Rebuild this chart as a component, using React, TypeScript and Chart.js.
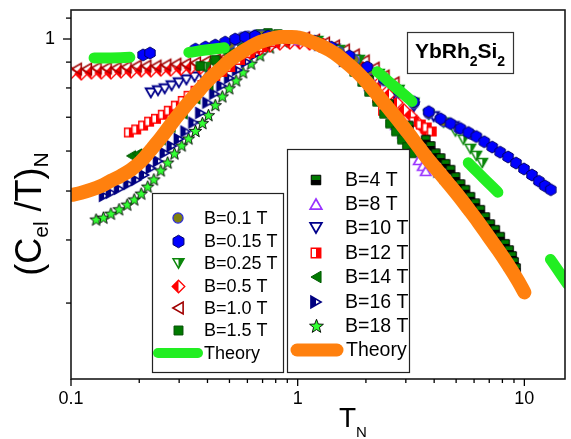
import React, { useEffect, useRef } from 'react';
import { Chart, registerables } from 'chart.js';

Chart.register(...registerables);

// ---------------- axes ----------------
const X_MIN = 0.1;
const X_MAX = 15.11;
const Y_MIN = 0.2122;
const Y_MAX = 1.1414;
const X_TICK_VALUES = [0.1, 0.2, 0.3, 0.4, 0.5, 0.6, 0.7, 0.8, 0.9, 1, 2, 3, 4, 5, 6, 7, 8, 9, 10];
const X_MAJOR_TICKS = [0.1, 1, 10];
const Y_TICK_VALUES = [0.3, 0.4, 0.5, 0.6, 0.7, 0.8, 0.9, 1, 1.1];
const Y_MAJOR_TICKS = [1];

// ---------------- theory curves ----------------
const ORANGE_T = [0.100, 0.111, 0.123, 0.136, 0.150, 0.166, 0.184, 0.204, 0.225, 0.249, 0.275, 0.305, 0.337, 0.372, 0.412, 0.456, 0.504, 0.557, 0.617, 0.682, 0.754, 0.834, 0.923, 1.020, 1.128, 1.248, 1.380, 1.527, 1.689, 1.868, 2.066, 2.286, 2.528, 2.796, 3.093, 3.421, 3.784, 4.185, 4.629, 5.120, 5.664, 6.264, 6.929, 7.664, 8.477, 9.376, 10.0];
const ORANGE_V = [0.491, 0.496, 0.503, 0.512, 0.524, 0.536, 0.551, 0.573, 0.603, 0.637, 0.676, 0.717, 0.757, 0.796, 0.837, 0.872, 0.909, 0.938, 0.964, 0.986, 1.000, 1.009, 1.009, 1.005, 0.991, 0.973, 0.951, 0.922, 0.888, 0.852, 0.811, 0.768, 0.727, 0.688, 0.649, 0.611, 0.576, 0.546, 0.517, 0.489, 0.461, 0.434, 0.407, 0.382, 0.357, 0.332, 0.315];

const GREEN_T = [0.100, 0.1206, 0.150, 0.196, 0.249, 0.314, 0.392, 0.504, 0.648, 0.793, 1.000, 1.248, 1.606, 2.130, 2.659, 3.319, 4.185, 5.385, 6.588, 7.90, 9.861, 12.43, 15.5];
const GREEN_V = [0.913, 0.917, 0.917, 0.922, 0.930, 0.938, 0.951, 0.964, 0.982, 0.995, 1.000, 0.986, 0.943, 0.876, 0.807, 0.740, 0.661, 0.582, 0.531, 0.489, 0.430, 0.377, 0.327];

// ---------------- measured series ----------------
const B0_1_T = [0.504, 0.535, 0.568, 0.604, 0.648, 0.696, 0.754, 0.834, 0.923, 1.020, 1.151, 1.313, 1.527, 1.776, 2.066, 2.404, 2.796, 3.253, 3.784, 4.402, 5.120, 5.838];
const B0_1_V = [0.978, 0.995, 1.009, 1.014, 1.018, 1.018, 1.014, 1.009, 1.005, 1.000, 0.986, 0.969, 0.943, 0.909, 0.868, 0.826, 0.782, 0.744, 0.711, 0.686, 0.665, 0.647];

const B0_15_T = [0.208, 0.223, 0.354, 0.392, 0.433, 0.479, 0.530, 0.586, 0.648, 0.739, 0.868, 1.000, 1.187, 1.408, 1.689, 2.025, 2.404, 2.796, 3.253, 3.784, 4.270, 4.723, 5.224, 5.664, 6.140, 6.655, 7.215, 7.820, 8.477, 9.190, 9.961, 10.80, 11.59, 12.31, 13.08];
const B0_15_V = [0.930, 0.938, 0.955, 0.964, 0.973, 0.986, 1.000, 1.009, 1.014, 1.014, 1.009, 1.005, 0.991, 0.964, 0.926, 0.880, 0.834, 0.790, 0.751, 0.718, 0.695, 0.680, 0.665, 0.653, 0.641, 0.626, 0.611, 0.597, 0.584, 0.568, 0.553, 0.538, 0.523, 0.512, 0.503];

const B0_25_T = [0.392, 0.433, 0.499, 0.586, 0.696, 0.834, 1.000, 1.224, 1.527, 1.868, 2.286, 2.796, 3.253, 3.784, 4.402, 4.968, 5.385, 5.780, 6.140, 6.522];
const B0_25_V = [0.880, 0.892, 0.917, 0.951, 0.982, 1.000, 1.005, 0.991, 0.951, 0.909, 0.853, 0.793, 0.748, 0.708, 0.683, 0.656, 0.632, 0.606, 0.587, 0.568];

const B0_5_T = [0.100, 0.111, 0.123, 0.136, 0.150, 0.166, 0.184, 0.204, 0.225, 0.249, 0.275, 0.305, 0.337, 0.372, 0.412, 0.456, 0.504, 0.557, 0.617, 0.682, 0.754, 0.834, 0.923, 1.020, 1.128, 1.248, 1.527, 1.723, 1.945, 2.151, 2.333, 2.528, 2.741, 2.941, 3.156, 3.353, 3.562, 3.709];
const B0_5_V = [0.857, 0.853, 0.857, 0.857, 0.857, 0.861, 0.861, 0.865, 0.865, 0.868, 0.868, 0.872, 0.876, 0.876, 0.884, 0.897, 0.905, 0.921, 0.938, 0.955, 0.969, 0.978, 0.982, 0.982, 0.978, 0.969, 0.938, 0.909, 0.876, 0.841, 0.808, 0.775, 0.748, 0.724, 0.705, 0.686, 0.668, 0.653];

const B1_0_T = [0.1056, 0.117, 0.129, 0.143, 0.158, 0.175, 0.194, 0.214, 0.237, 0.262, 0.290, 0.320, 0.354, 0.392, 0.433, 0.479, 0.530, 0.586, 0.648, 0.717, 0.793, 0.877, 0.970, 1.073, 1.187, 1.313, 1.452, 1.606, 1.776, 1.965, 2.173, 2.404, 2.659];
const B1_0_V = [0.872, 0.872, 0.876, 0.876, 0.876, 0.880, 0.884, 0.884, 0.884, 0.888, 0.892, 0.892, 0.897, 0.901, 0.909, 0.921, 0.934, 0.951, 0.969, 0.982, 0.995, 1.000, 1.005, 1.005, 0.995, 0.982, 0.969, 0.951, 0.930, 0.905, 0.876, 0.845, 0.819];

const B1_5_T = [0.372, 0.433, 0.504, 0.568, 0.630, 0.682, 0.739, 0.817, 0.904, 1.000, 1.187, 1.380, 1.606, 1.776, 1.926, 2.066, 2.240, 2.404, 2.554, 2.713, 2.882, 3.032, 3.188];
const B1_5_V = [0.884, 0.909, 0.943, 0.978, 1.009, 1.023, 1.028, 1.023, 1.018, 1.009, 0.986, 0.951, 0.901, 0.861, 0.822, 0.786, 0.751, 0.711, 0.680, 0.656, 0.632, 0.611, 0.594];

const B4_T = [0.617, 0.754, 0.923, 1.128, 1.380, 1.689, 2.066, 2.528, 3.093, 3.671, 3.861, 4.061, 4.270, 4.492, 4.723, 4.968, 5.224, 5.495, 5.780, 6.077, 6.392, 6.722, 7.070, 7.436, 7.820, 8.225, 8.563, 8.826, 9.005, 9.190];
const B4_V = [0.964, 0.995, 1.005, 0.991, 0.955, 0.901, 0.830, 0.744, 0.674, 0.632, 0.614, 0.594, 0.581, 0.566, 0.551, 0.533, 0.516, 0.503, 0.487, 0.473, 0.459, 0.444, 0.430, 0.419, 0.406, 0.393, 0.382, 0.372, 0.362, 0.352];

const B8_T = [1.020, 1.380, 1.776, 2.173, 2.503, 2.713, 2.911, 3.093, 3.286, 3.421, 3.562, 3.671];
const B8_V = [0.995, 0.960, 0.897, 0.811, 0.731, 0.676, 0.650, 0.626, 0.597, 0.576, 0.561, 0.548];

const B10_T = [0.225, 0.242, 0.259, 0.278, 0.299, 0.323, 0.351, 0.380, 0.412, 0.446, 0.484, 0.525, 0.568, 0.630, 0.696, 0.785, 0.886, 1.000, 1.187, 1.452, 1.776, 2.173, 2.659, 3.253, 3.980, 4.869];
const B10_V = [0.782, 0.790, 0.797, 0.808, 0.819, 0.830, 0.841, 0.849, 0.861, 0.872, 0.884, 0.901, 0.921, 0.947, 0.969, 0.986, 1.000, 1.005, 0.986, 0.955, 0.909, 0.845, 0.779, 0.734, 0.702, 0.671];

const B12_T = [0.180, 0.194, 0.208, 0.221, 0.237, 0.254, 0.270, 0.290, 0.311, 0.330, 0.354, 0.380, 0.404, 0.433, 0.465, 0.504, 0.557, 0.617, 0.696, 0.793, 0.904, 1.000, 1.248, 1.527, 1.831, 2.066, 2.240, 2.380, 3.253, 3.491, 3.709, 3.901];
const B12_V = [0.653, 0.662, 0.674, 0.686, 0.695, 0.708, 0.721, 0.738, 0.754, 0.772, 0.790, 0.811, 0.830, 0.845, 0.861, 0.880, 0.909, 0.938, 0.964, 0.986, 1.000, 1.005, 0.982, 0.934, 0.876, 0.815, 0.765, 0.721, 0.686, 0.677, 0.668, 0.656];

const B14_T = [0.184, 0.196, 0.208, 0.221, 0.249, 0.275, 0.311, 0.354, 0.404, 0.465, 0.535, 0.617, 0.717, 0.834, 1.000, 1.248, 1.606, 2.066, 2.659, 3.353, 4.103];
const B14_V = [0.587, 0.592, 0.597, 0.606, 0.632, 0.668, 0.711, 0.761, 0.811, 0.861, 0.909, 0.947, 0.978, 0.995, 1.005, 0.973, 0.905, 0.811, 0.708, 0.620, 0.551];

const B16_T = [0.140, 0.150, 0.163, 0.179, 0.194, 0.210, 0.225, 0.242, 0.259, 0.278, 0.299, 0.320, 0.347, 0.372, 0.400, 0.429, 0.461, 0.499, 0.541, 0.592, 0.655, 0.732, 0.834, 0.942, 1.248, 1.606, 2.066, 2.659, 3.421, 4.185];
const B16_V = [0.489, 0.496, 0.505, 0.516, 0.526, 0.538, 0.555, 0.573, 0.595, 0.614, 0.634, 0.656, 0.683, 0.714, 0.748, 0.779, 0.808, 0.837, 0.868, 0.901, 0.934, 0.964, 0.986, 1.000, 0.973, 0.905, 0.811, 0.708, 0.611, 0.546];

const B18_T = [0.129, 0.139, 0.150, 0.163, 0.177, 0.190, 0.204, 0.218, 0.232, 0.249, 0.267, 0.286, 0.308, 0.330, 0.354, 0.380, 0.404, 0.433, 0.465, 0.499, 0.535, 0.574, 0.623, 0.682, 0.754, 0.868, 0.961, 1.248, 1.606, 2.066, 2.659, 3.421, 4.402, 5.664, 7.287, 8.477];
const B18_V = [0.438, 0.442, 0.450, 0.459, 0.469, 0.480, 0.493, 0.509, 0.526, 0.548, 0.568, 0.592, 0.614, 0.634, 0.656, 0.680, 0.705, 0.738, 0.768, 0.797, 0.826, 0.857, 0.892, 0.926, 0.960, 0.986, 1.000, 0.973, 0.905, 0.811, 0.708, 0.611, 0.531, 0.461, 0.395, 0.357];

const LABELS: Record<string, string> = {
  B0_1: 'B=0.1 T', B0_15: 'B=0.15 T', B0_25: 'B=0.25 T', B0_5: 'B=0.5 T', B1_0: 'B=1.0 T', B1_5: 'B=1.5 T',
  B4: 'B=4 T', B8: 'B=8 T', B10: 'B=10 T', B12: 'B=12 T', B14: 'B=14 T', B16: 'B=16 T', B18: 'B=18 T',
};
const THEORY_LABEL = 'Theory';
const LEFT_LEGEND = ['B0_1', 'B0_15', 'B0_25', 'B0_5', 'B1_0', 'B1_5'];
const RIGHT_LEGEND = ['B4', 'B8', 'B10', 'B12', 'B14', 'B16', 'B18'];

const SERIES_DATA: Record<string, [number[], number[]]> = {
  B0_1: [B0_1_T, B0_1_V], B0_15: [B0_15_T, B0_15_V], B0_25: [B0_25_T, B0_25_V], B0_5: [B0_5_T, B0_5_V],
  B1_0: [B1_0_T, B1_0_V], B1_5: [B1_5_T, B1_5_V], B4: [B4_T, B4_V], B8: [B8_T, B8_V], B10: [B10_T, B10_V],
  B12: [B12_T, B12_V], B14: [B14_T, B14_V], B16: [B16_T, B16_V], B18: [B18_T, B18_V],
};
// drawing order: first = on top
const DRAW_ORDER = ['B0_15', 'B0_1', 'B4', 'B1_5', 'B8', 'B0_25', 'B12', 'B1_0', 'B0_5', 'B10', 'B14', 'B16', 'B18'];

// ---------------- styles ----------------
const FONT = '"Liberation Sans", Arial, Helvetica, sans-serif';
const GREEN = '#22ee22';
const ORANGE = '#ff800e';

type Sym = { shape: string; size: number; fill: string | null; stroke: string; lw: number; half?: { side: string; color: string } };
const SYMBOLS: Record<string, Sym> = {
  B0_1: { shape: 'circle', size: 11, fill: '#7f7f10', stroke: '#2a2ae0', lw: 1.2 },
  B0_15: { shape: 'hex', size: 12, fill: '#0000ff', stroke: '#00006a', lw: 1 },
  B0_25: { shape: 'triDown', size: 12, fill: '#ffffff', stroke: '#0a860a', lw: 1.5, half: { side: 'right', color: '#0a860a' } },
  B0_5: { shape: 'diamond', size: 12, fill: '#ffffff', stroke: '#ff0000', lw: 1.3, half: { side: 'left', color: '#ff0000' } },
  B1_0: { shape: 'triLeft', size: 13, fill: null, stroke: '#a00000', lw: 1.6 },
  B1_5: { shape: 'square', size: 10, fill: '#007a00', stroke: '#004d00', lw: 1 },
  B4: { shape: 'square', size: 10, fill: '#007a00', stroke: '#000000', lw: 1, half: { side: 'bottom', color: '#000000' } },
  B8: { shape: 'triUp', size: 12, fill: '#ffffff', stroke: '#9933ff', lw: 1.7 },
  B10: { shape: 'triDown', size: 12, fill: '#ffffff', stroke: '#00008b', lw: 1.8 },
  B12: { shape: 'square', size: 10, fill: '#ffffff', stroke: '#ff0000', lw: 1.4, half: { side: 'right', color: '#ff0000' } },
  B14: { shape: 'triLeft', size: 12, fill: '#007a00', stroke: '#005a00', lw: 1 },
  B16: { shape: 'triRight', size: 12, fill: '#ffffff', stroke: '#000080', lw: 1.6, half: { side: 'left', color: '#000080' } },
  B18: { shape: 'star', size: 13, fill: '#33ff33', stroke: '#000000', lw: 0.9 },
};

function polyPoints(cx: number, cy: number, r: number, n: number, startDeg: number) {
  const pts: number[][] = [];
  for (let i = 0; i < n; i++) {
    const a = ((startDeg + (i * 360) / n) * Math.PI) / 180;
    pts.push([cx + r * Math.cos(a), cy + r * Math.sin(a)]);
  }
  return pts;
}
function starPoints(cx: number, cy: number, r: number) {
  const pts: number[][] = [];
  for (let i = 0; i < 10; i++) {
    const rr = i % 2 === 0 ? r : r * 0.42;
    const a = ((-90 + i * 36) * Math.PI) / 180;
    pts.push([cx + rr * Math.cos(a), cy + rr * Math.sin(a)]);
  }
  return pts;
}
function shapePath(g: CanvasRenderingContext2D, shape: string, cx: number, cy: number, size: number) {
  const r = size / 2;
  g.beginPath();
  let pts: number[][] = [];
  switch (shape) {
    case 'circle': g.arc(cx, cy, r * 0.88, 0, Math.PI * 2); g.closePath(); return;
    case 'square': g.rect(cx - r * 0.85, cy - r * 0.85, r * 1.7, r * 1.7); return;
    case 'hex': pts = polyPoints(cx, cy, r, 6, -90); break;
    case 'diamond': pts = polyPoints(cx, cy, r, 4, -90); break;
    case 'triUp': pts = polyPoints(cx, cy + r * 0.25, r, 3, -90); break;
    case 'triDown': pts = polyPoints(cx, cy - r * 0.25, r, 3, 90); break;
    case 'triLeft': pts = polyPoints(cx + r * 0.25, cy, r, 3, 180); break;
    case 'triRight': pts = polyPoints(cx - r * 0.25, cy, r, 3, 0); break;
    case 'star': pts = starPoints(cx, cy, r); break;
  }
  g.moveTo(pts[0][0], pts[0][1]);
  for (let i = 1; i < pts.length; i++) g.lineTo(pts[i][0], pts[i][1]);
  g.closePath();
}
function makeSymbol(spec: Sym, scale: number): HTMLCanvasElement {
  const size = spec.size * scale;
  const S = Math.ceil(size + 4);
  const c = document.createElement('canvas');
  c.width = S; c.height = S;
  const g = c.getContext('2d') as CanvasRenderingContext2D;
  const cx = S / 2, cy = S / 2;
  g.lineJoin = 'miter';
  shapePath(g, spec.shape, cx, cy, size);
  if (spec.fill) { g.fillStyle = spec.fill; g.fill(); }
  if (spec.half) {
    g.save();
    shapePath(g, spec.shape, cx, cy, size);
    g.clip();
    g.fillStyle = spec.half.color;
    if (spec.half.side === 'left') g.fillRect(0, 0, cx, S);
    if (spec.half.side === 'right') g.fillRect(cx, 0, S - cx, S);
    if (spec.half.side === 'top') g.fillRect(0, 0, S, cy);
    if (spec.half.side === 'bottom') g.fillRect(0, cy, S, S - cy);
    g.restore();
  }
  shapePath(g, spec.shape, cx, cy, size);
  g.lineWidth = spec.lw;
  g.strokeStyle = spec.stroke;
  g.stroke();
  return c;
}

function toXY(T: number[], V: number[]) {
  return T.map((t, i) => ({ x: t, y: V[i] }));
}

function drawRich(ctx: CanvasRenderingContext2D, parts: { t: string; f: string; dy: number }[], x: number, y: number, align: string) {
  let total = 0;
  for (const p of parts) { ctx.font = p.f; total += ctx.measureText(p.t).width; }
  let cx = align === 'center' ? x - total / 2 : x;
  ctx.textAlign = 'left';
  ctx.textBaseline = 'alphabetic';
  for (const p of parts) {
    ctx.font = p.f;
    ctx.fillText(p.t, cx, y + p.dy);
    cx += ctx.measureText(p.t).width;
  }
}

export default function App() {
  const ref = useRef<HTMLCanvasElement>(null);
  useEffect(() => {
    document.body.style.margin = '0';
    const canvas = ref.current as HTMLCanvasElement;
    const dataSyms: Record<string, HTMLCanvasElement> = {};
    const legSymsL: Record<string, HTMLCanvasElement> = {};
    const legSymsR: Record<string, HTMLCanvasElement> = {};
    for (const k of Object.keys(SYMBOLS)) {
      dataSyms[k] = makeSymbol(SYMBOLS[k], 1);
      legSymsL[k] = makeSymbol(SYMBOLS[k], 1.05);
      legSymsR[k] = makeSymbol(SYMBOLS[k], 1.12);
    }

    const datasets: any[] = [
      {
        label: THEORY_LABEL, data: toXY(ORANGE_T, ORANGE_V), showLine: true, borderColor: ORANGE, backgroundColor: ORANGE,
        borderWidth: 14, borderCapStyle: 'round', borderJoinStyle: 'round', pointRadius: 0, tension: 0.35, order: 0, clip: 0,
      },
      {
        label: THEORY_LABEL, data: toXY(GREEN_T, GREEN_V), showLine: true, borderColor: GREEN, backgroundColor: GREEN,
        borderWidth: 11, borderCapStyle: 'round', borderJoinStyle: 'round', pointRadius: 0, tension: 0.35, order: 1, clip: 0,
        borderDash: [36, 59, 36, 161, 46, 83, 42, 85, 60, 23], borderDashOffset: 608,
      },
    ];
    DRAW_ORDER.forEach((k, i) => {
      const [T, V] = SERIES_DATA[k];
      datasets.push({
        label: LABELS[k], data: toXY(T, V), showLine: false, pointStyle: dataSyms[k],
        pointRadius: 5, pointHoverRadius: 5, order: 2 + i, clip: 0,
      });
    });

    const decor = {
      id: 'decor',
      beforeDraw(chart: any) {
        const c = chart.ctx;
        c.save(); c.fillStyle = '#ffffff'; c.fillRect(0, 0, chart.width, chart.height); c.restore();
      },
      afterDraw(chart: any) {
        const ctx = chart.ctx as CanvasRenderingContext2D;
        const { left, right, top, bottom } = chart.chartArea;
        const xs = chart.scales.x, ys = chart.scales.y;
        ctx.save();
        // frame
        ctx.strokeStyle = '#1a1a1a';
        ctx.lineWidth = 1.6;
        ctx.strokeRect(left, top, right - left, bottom - top);
        // ticks
        ctx.lineWidth = 1.3;
        ctx.strokeStyle = '#000';
        for (const v of X_TICK_VALUES) {
          const px = xs.getPixelForValue(v);
          const len = X_MAJOR_TICKS.includes(v) ? 7 : 4;
          ctx.beginPath(); ctx.moveTo(px, bottom); ctx.lineTo(px, bottom + len); ctx.stroke();
        }
        for (const v of Y_TICK_VALUES) {
          const py = ys.getPixelForValue(v);
          const len = Y_MAJOR_TICKS.includes(v) ? 8 : 5;
          ctx.beginPath(); ctx.moveTo(left, py); ctx.lineTo(left - len, py); ctx.stroke();
        }
        ctx.fillStyle = '#000';
        // x title
        drawRich(ctx, [
          { t: 'T', f: `28px ${FONT}`, dy: 0 },
          { t: 'N', f: `15px ${FONT}`, dy: 10 },
        ], 339, 427, 'left');
        // y title (rotated)
        ctx.save();
        ctx.translate(41, 214);
        ctx.rotate(-Math.PI / 2);
        drawRich(ctx, [
          { t: '(C', f: `36px ${FONT}`, dy: 0 },
          { t: 'el', f: `21px ${FONT}`, dy: 7 },
          { t: ' /T)', f: `36px ${FONT}`, dy: 0 },
          { t: 'N', f: `21px ${FONT}`, dy: 7 },
        ], 0, 0, 'center');
        ctx.restore();

        // compound label box
        ctx.fillStyle = '#fff';
        ctx.fillRect(407, 32, 106, 41);
        ctx.strokeStyle = '#333';
        ctx.lineWidth = 1.2;
        ctx.strokeRect(407.5, 32.5, 106, 41);
        ctx.fillStyle = '#000';
        drawRich(ctx, [
          { t: 'YbRh', f: `bold 21px ${FONT}`, dy: 0 },
          { t: '2', f: `bold 14px ${FONT}`, dy: 8 },
          { t: 'Si', f: `bold 21px ${FONT}`, dy: 0 },
          { t: '2', f: `bold 14px ${FONT}`, dy: 8 },
        ], 460, 58, 'center');

        // legends
        const drawLegend = (bx: number, by: number, bw: number, bh: number, keys: string[], rows: number[],
          symX: number, textX: number, fontPx: number, syms: Record<string, HTMLCanvasElement>,
          lineColor: string, lineW: number, lx0: number, lx1: number, theoryX: number) => {
          ctx.fillStyle = '#fff';
          ctx.fillRect(bx, by, bw, bh);
          ctx.strokeStyle = '#222';
          ctx.lineWidth = 1.2;
          ctx.strokeRect(bx + 0.5, by + 0.5, bw, bh);
          ctx.font = `${fontPx}px ${FONT}`;
          ctx.textBaseline = 'middle';
          ctx.textAlign = 'left';
          keys.forEach((k, i) => {
            const s = syms[k];
            ctx.drawImage(s, Math.round(symX - s.width / 2), Math.round(rows[i] - s.height / 2));
            ctx.fillStyle = '#000';
            ctx.fillText(LABELS[k], textX, rows[i] + 1);
          });
          const ty = rows[keys.length];
          ctx.strokeStyle = lineColor;
          ctx.lineWidth = lineW;
          ctx.lineCap = 'round';
          ctx.beginPath(); ctx.moveTo(lx0, ty); ctx.lineTo(lx1, ty); ctx.stroke();
          ctx.lineCap = 'butt';
          ctx.fillStyle = '#000';
          ctx.fillText(THEORY_LABEL, theoryX, ty + 1);
        };
        drawLegend(152, 193, 131, 179, LEFT_LEGEND, [218, 241, 263, 286, 308, 330, 353], 178, 204, 18, legSymsL,
          GREEN, 10, 158, 198, 204);
        drawLegend(287, 149, 122, 223, RIGHT_LEGEND, [180, 204, 228, 253, 277, 302, 326, 350], 316, 345, 19.5, legSymsR,
          ORANGE, 13, 297, 337, 346);
        ctx.restore();
      },
    };

    const chart = new Chart(canvas, {
      type: 'scatter',
      data: { datasets },
      options: {
        responsive: false,
        animation: false,
        devicePixelRatio: 1,
        events: [],
        layout: { padding: { left: 0, right: 2, top: 10, bottom: 0 } },
        plugins: { legend: { display: false }, tooltip: { enabled: false } },
        scales: {
          x: {
            type: 'logarithmic', position: 'bottom', min: X_MIN, max: X_MAX,
            afterBuildTicks: (s: any) => { s.ticks = X_TICK_VALUES.map((v) => ({ value: v })); },
            afterFit: (s: any) => { s.height = 60; s.paddingLeft = 0; s.paddingRight = 0; },
            grid: { display: false, drawTicks: false },
            border: { display: false },
            ticks: {
              autoSkip: false, maxRotation: 0, minRotation: 0, padding: 9, color: '#000',
              font: { family: FONT, size: 18 },
              callback: (v: any) => (X_MAJOR_TICKS.includes(v) ? String(v) : ''),
            },
          },
          y: {
            type: 'logarithmic', position: 'left', min: Y_MIN, max: Y_MAX,
            afterBuildTicks: (s: any) => { s.ticks = Y_TICK_VALUES.map((v) => ({ value: v })); },
            afterFit: (s: any) => { s.width = 71; s.paddingTop = 0; s.paddingBottom = 0; },
            grid: { display: false, drawTicks: false },
            border: { display: false },
            ticks: {
              autoSkip: false, padding: 16, color: '#000',
              font: { family: FONT, size: 18, lineHeight: 1 },
              callback: (v: any) => (Y_MAJOR_TICKS.includes(v) ? String(v) : ''),
            },
          },
        },
      } as any,
      plugins: [decor],
    });
    return () => chart.destroy();
  }, []);

  return (
    <div style={{ width: 571, height: 439 }}>
      <canvas ref={ref} width={571} height={439} style={{ display: 'block', width: 571, height: 439 }} />
    </div>
  );
}
